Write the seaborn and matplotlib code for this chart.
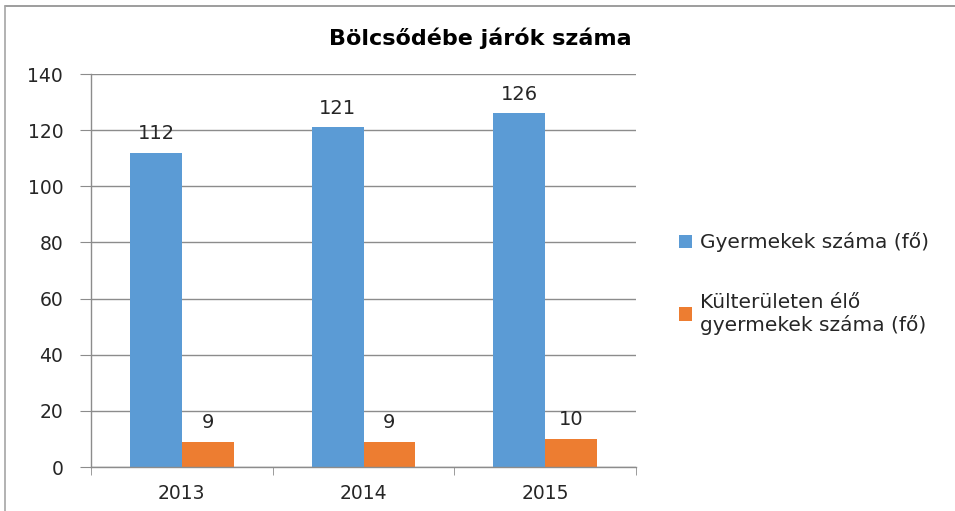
import pandas as pd
import matplotlib.pyplot as plt
import seaborn as sns
from matplotlib.lines import Line2D
from matplotlib.patches import Patch

# adatok
evek = ['2013', '2014', '2015']
gyermekek = [112, 121, 126]
kulteruleti = [9, 9, 10]
sorozatok = ['Gyermekek száma (fő)', 'Külterületen élő\ngyermekek száma (fő)']
szinek = ['#5B9BD5', '#ED7D31']

df = pd.DataFrame({
    'ev': evek * 2,
    'ertek': gyermekek + kulteruleti,
    'sorozat': [sorozatok[0]] * 3 + [sorozatok[1]] * 3,
})

sns.set_style('white')
plt.rcParams['font.family'] = ['DejaVu Sans']
szoveg = '#262626'
racs = '#8C8C8C'

fig = plt.figure(figsize=(9.55, 5.11), dpi=100)
ax = fig.add_axes([0.0953, 0.0861, 0.5707, 0.7689])

sns.barplot(data=df, x='ev', y='ertek', hue='sorozat', palette=szinek,
            width=0.57, saturation=1, linewidth=0, ax=ax, legend=False)

for c in ax.containers:
    ax.bar_label(c, padding=7, fontsize=14, color=szoveg)

ax.set_ylim(0, 140)
ax.set_yticks(range(0, 141, 20))
ax.set_xlim(-0.5, 2.5)
ax.set_xlabel('')
ax.set_ylabel('')
ax.yaxis.grid(True, color=racs, linewidth=1)
ax.set_axisbelow(True)

for side in ['top', 'right']:
    ax.spines[side].set_visible(False)
for side in ['left', 'bottom']:
    ax.spines[side].set_color(racs)
    ax.spines[side].set_linewidth(1)

ax.tick_params(axis='y', length=8, color=racs, labelsize=13.5, labelcolor=szoveg, pad=12, left=True)
ax.tick_params(axis='x', length=0, labelsize=13.5, labelcolor=szoveg, pad=12)
ax.set_xticks([-0.5, 0.5, 1.5, 2.5], minor=True)
ax.tick_params(axis='x', which='minor', length=6, color=racs, bottom=True)

fig.text(0.503, 0.925, 'Bölcsődébe járók száma', ha='center', va='center',
         fontsize=16, fontweight='bold', color='black')

kezelok = [Patch(facecolor=s, edgecolor='none') for s in szinek]
fig.legend(kezelok, sorozatok, loc='center left', bbox_to_anchor=(0.692, 0.445),
           frameon=False, fontsize=14.5, handlelength=0.65, handleheight=0.65,
           handletextpad=0.4, labelspacing=2.0, labelcolor=szoveg)

# keret
fig.add_artist(Line2D([0.005, 1.0], [0.988, 0.988], color='#8C8C8C', linewidth=1.2))
fig.add_artist(Line2D([0.0055, 0.0055], [0.0, 0.988], color='#A6A6A6', linewidth=1.2))

fig.savefig('out.png', dpi=100)
